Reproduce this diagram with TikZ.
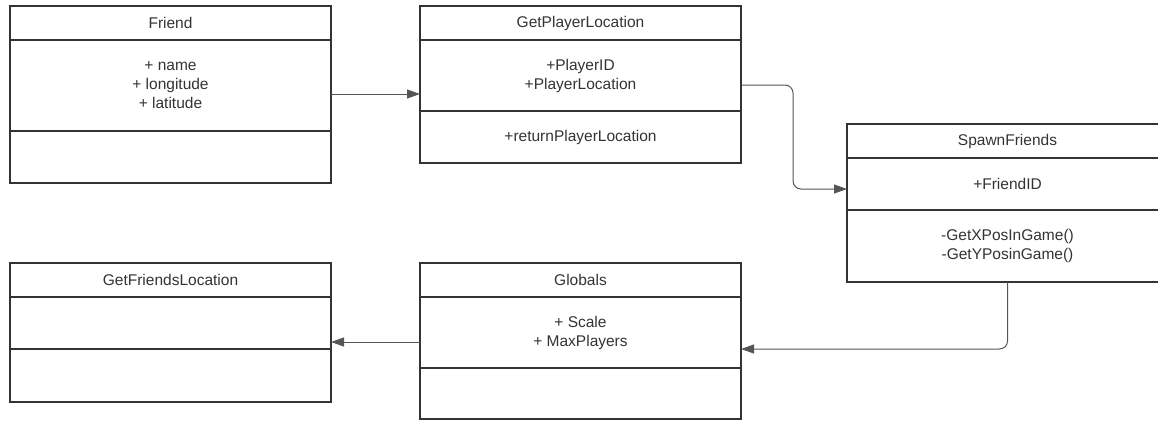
\documentclass[tikz,border=0pt]{standalone}
\usepackage{fontspec}
\setmainfont{Liberation Sans}
\usetikzlibrary{arrows.meta,positioning}
\definecolor{umlline}{HTML}{333333}
\definecolor{linkline}{HTML}{555555}

\begin{document}
\begin{tikzpicture}[
    x=1pt, y=-1pt,
    every node/.style={font=\fontsize{15.5}{19}\selectfont, text=umlline},
    head/.style={draw=umlline, line width=1.3pt, minimum width=321pt, minimum height=34pt, inner sep=0pt, outer sep=0pt},
    part/.style={head, align=center},
    flow/.style={-{Triangle[length=13pt,width=9pt]}, draw=linkline, line width=1pt}
]
\useasboundingbox (0,0) rectangle (1158,420);
\clip (0,0) rectangle (1158,420);
% classes, top row
\node[head] (friend) at (170.5,23) {Friend};
\node[part, minimum height=91pt, below=0pt of friend] (friendAttr) {+ name\\+ longitude\\+ latitude};
\node[part, minimum height=52pt, below=0pt of friendAttr] (friendOps) {};
\node[head] (gpl) at (580.5,23) {GetPlayerLocation};
\node[part, minimum height=71pt, below=0pt of gpl] (gplAttr) {+PlayerID\\+PlayerLocation};
\node[part, minimum height=52pt, below=0pt of gplAttr] (gplOps) {+returnPlayerLocation};
\node[head] (spawn) at (1007.5,141) {SpawnFriends};
\node[part, minimum height=52pt, below=0pt of spawn] (spawnAttr) {+FriendID};
\node[part, minimum height=72pt, below=0pt of spawnAttr] (spawnOps) {-GetXPosInGame()\\-GetYPosinGame()};
% classes, bottom row
\node[head] (gfl) at (170.5,280) {GetFriendsLocation};
\node[part, minimum height=52pt, below=0pt of gfl] (gflAttr) {};
\node[part, minimum height=53pt, below=0pt of gflAttr] (gflOps) {};
\node[head] (glob) at (580.5,280) {Globals};
\node[part, minimum height=71pt, below=0pt of glob] (globAttr) {+ Scale\\+ MaxPlayers};
\node[part, minimum height=51pt, below=0pt of globAttr] (globOps) {};
% links
\coordinate (f2g) at ([yshift=-8.5pt]friendAttr.east);
\coordinate (g2s) at ([yshift=-9.5pt]gplAttr.east);
\coordinate (s2g) at ([yshift=-5pt]spawnAttr.west);
\coordinate (sg) at ([yshift=-16.5pt]globAttr.east);
\coordinate (g2f) at ([yshift=-9.5pt]globAttr.west);
\draw[flow] (f2g) -- (f2g -| gplAttr.west);
\draw[flow, rounded corners=8pt] (g2s) -- ++(52,0) |- (s2g);
\draw[flow, rounded corners=8pt] (spawnOps.south) |- (sg);
\draw[flow] (g2f) -- (g2f -| gflAttr.east);
\end{tikzpicture}
\end{document}
